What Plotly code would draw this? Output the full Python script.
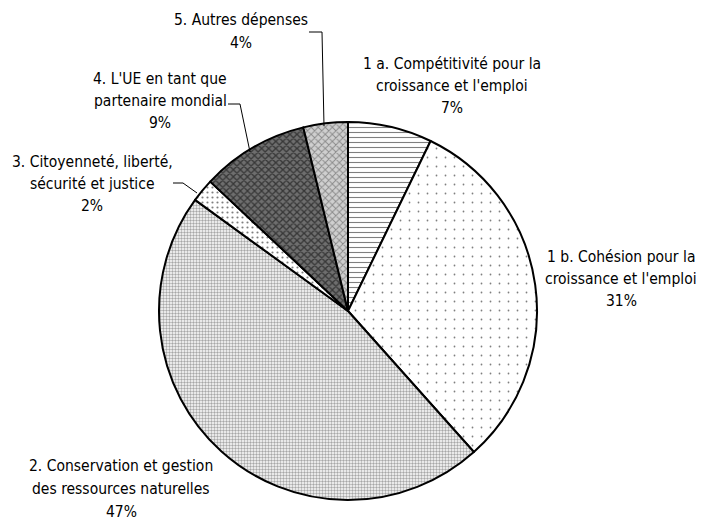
import plotly.graph_objects as go

# ---- data ----
label_lines = [
    ["1 a. Compétitivité pour la", "croissance et l'emploi"],
    ["1 b. Cohésion pour la", "croissance et l'emploi"],
    ["2. Conservation et gestion", "des ressources naturelles"],
    ["3. Citoyenneté, liberté,", "sécurité et justice"],
    ["4. L'UE en tant que", "partenaire mondial"],
    ["5. Autres dépenses"],
]
values = [7.2, 31.2, 46.6, 2.0, 9.2, 3.8]

# ---- styles ----
shapes_pat = ["-", ".", ".", ".", "x", "x"]
fg = ["#000000", "#000000", "#505050", "#000000", "#000000", "#444444"]
bg = ["#ffffff", "#ffffff", "#ffffff", "#ffffff", "#6e6e6e", "#cfcfcf"]
psize = [5, 9, 3, 5, 5, 5]
solid = [0.22, 0.03, 0.5, 0.15, 0.45, 0.35]

W, H = 702, 526
cx, cy, r = 348, 311, 189

fig = go.Figure(go.Pie(
    labels=[" ".join(l) for l in label_lines], values=values, sort=False,
    direction="clockwise", rotation=0,
    textinfo="none", hoverinfo="label+percent",
    marker=dict(
        colors=bg,
        line=dict(color="#000000", width=2),
        pattern=dict(shape=shapes_pat, fgcolor=fg, bgcolor=bg, size=psize,
                     solidity=solid, fillmode="overlay"),
    ),
    domain=dict(x=[(cx - r) / W, (cx + r) / W], y=[(H - cy - r) / H, (H - cy + r) / H]),
))

font = dict(family="DejaVu Sans Condensed, Liberation Sans, sans-serif",
            size=15.5, color="#000000")

total = sum(values)
# label positions in pixels: center x, and the middle y of each text line
label_x = [452, 621, 121, 92, 160, 241]
label_y = [[64, 86, 108], [257, 279, 301], [466, 489, 512],
           [162, 184, 206], [79, 101, 123], [20, 43]]
anns = []
for lines, v, px, ys in zip(label_lines, values, label_x, label_y):
    for txt, py in zip(lines + [f"{round(v / total * 100)}%"], ys):
        anns.append(dict(
            text=txt, x=px / W, y=1 - py / H, xref="paper", yref="paper",
            xanchor="center", yanchor="middle", showarrow=False, align="center",
            font=font,
        ))

leaders = [
    [(309, 32), (322, 32), (324, 126)],
    [(228, 104), (240, 104), (250, 152)],
    [(173, 183), (183, 183), (197, 193)],
]
shapes = []
for pts in leaders:
    path = "M " + " L ".join(f"{x / W:.5f},{1 - y / H:.5f}" for x, y in pts)
    shapes.append(dict(type="path", path=path, xref="paper", yref="paper",
                       line=dict(color="#000000", width=1)))

fig.update_layout(
    width=W, height=H, margin=dict(l=0, r=0, t=0, b=0),
    paper_bgcolor="#ffffff", plot_bgcolor="#ffffff", showlegend=False,
    annotations=anns, shapes=shapes,
)
fig.write_html("out.html", config={"displayModeBar": False},
               post_script="document.body.style.margin='0px';")
